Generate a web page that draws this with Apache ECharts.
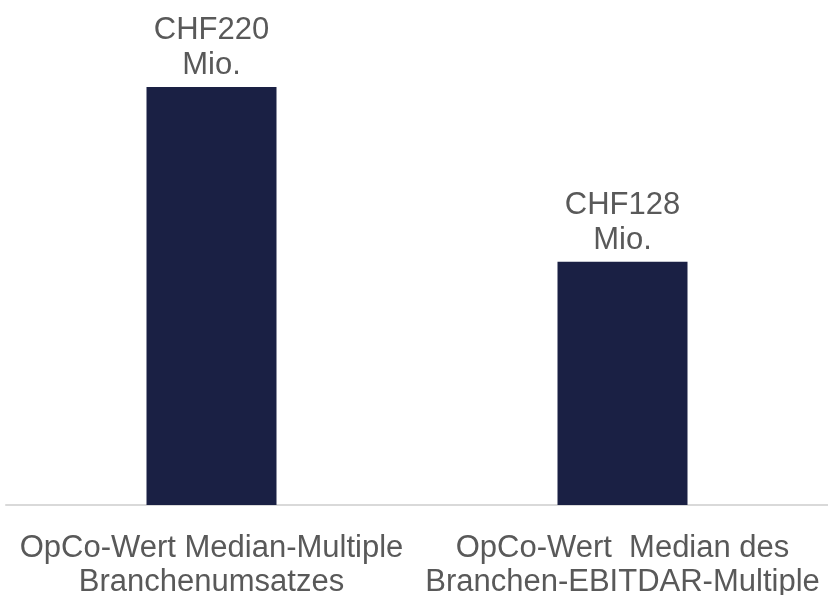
<!DOCTYPE html>
<html>
<head>
<meta charset="utf-8">
<script src="https://cdn.jsdelivr.net/npm/echarts@6/dist/echarts.min.js"></script>
<style>
  html, body { margin: 0; padding: 0; background: #fff; }
  #chart { width: 828px; height: 595px; }
</style>
</head>
<body>
<div id="chart"></div>
<script>
// Data
const categories = [
  'OpCo-Wert Median-Multiple\nBranchenumsatzes',
  'OpCo-Wert  Median des\nBranchen-EBITDAR-Multiple'
];
const values = [220, 128]; // CHF Mio.

const textColor = '#595959';
const fontFamily = '"Liberation Sans", Arial, sans-serif';

const chart = echarts.init(document.getElementById('chart'), null, { renderer: 'canvas' });

chart.setOption({
  animation: false,
  grid: { left: 6, right: 0, top: 87, bottom: 90, outerBoundsMode: 'none' },
  xAxis: {
    type: 'category',
    data: categories,
    axisLine: { lineStyle: { color: '#d9d9d9', width: 2 } },
    axisTick: { show: false },
    axisLabel: {
      color: textColor,
      fontFamily,
      fontSize: 31,
      lineHeight: 34,
      margin: 26,
      interval: 0
    }
  },
  yAxis: {
    type: 'value',
    min: 0,
    max: 220,
    show: false,
    splitLine: { show: false }
  },
  series: [{
    type: 'bar',
    data: values,
    barWidth: 130,
    itemStyle: { color: '#1a2044' },
    label: {
      show: true,
      position: 'top',
      distance: 4,
      color: textColor,
      fontFamily,
      fontSize: 31,
      lineHeight: 35,
      formatter: p => 'CHF' + p.value + '\nMio.'
    }
  }]
});
</script>
</body>
</html>
